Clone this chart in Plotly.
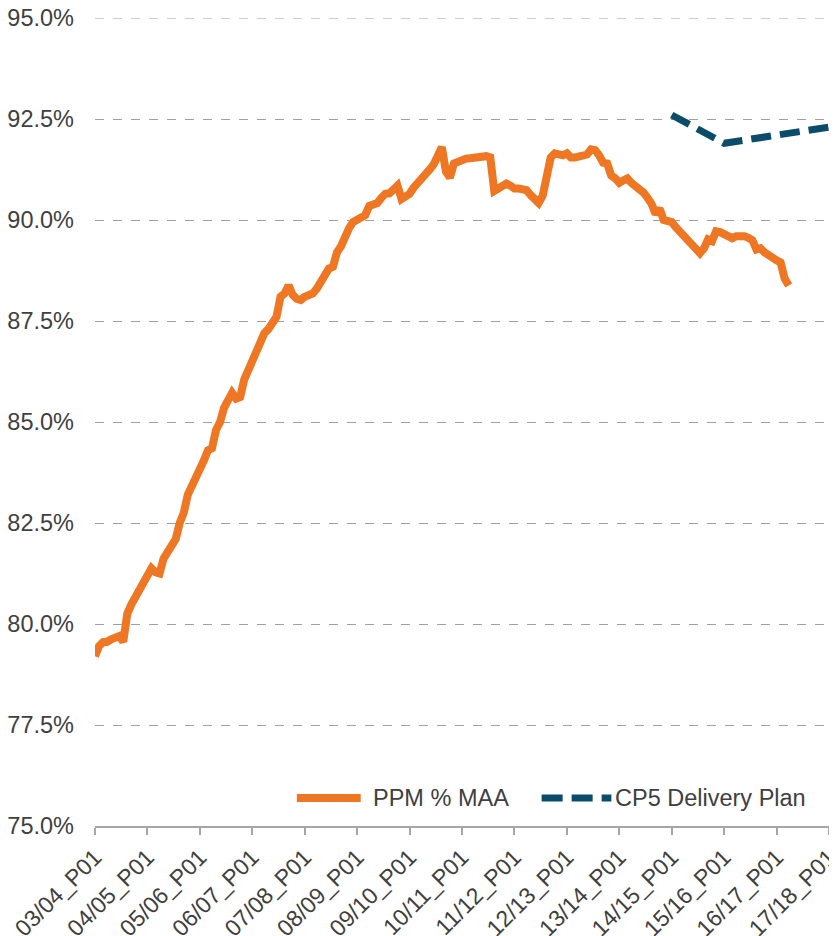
import plotly.graph_objects as go

# ---- data ----
years = ["03/04", "04/05", "05/06", "06/07", "07/08", "08/09", "09/10", "10/11",
         "11/12", "12/13", "13/14", "14/15", "15/16", "16/17", "17/18"]
periods = [f"{y}_P{p:02d}" for y in years[:-1] for p in range(1, 14)] + [f"{years[-1]}_P01"]
tick_labels = [f"{y}_P01" for y in years]

ppm_maa = [
    79.2, 79.45, 79.55, 79.56, 79.62, 79.68, 79.70, 79.56, 80.25, 80.48,
    80.65, 80.88, 81.0, 81.2, 81.38, 81.28, 81.25, 81.62, 81.8, 81.9,
    82.1, 82.5, 82.75, 83.2, 83.4, 83.6, 83.75, 84.05, 84.3, 84.35,
    84.8, 85.0, 85.35, 85.55, 85.72, 85.58, 85.62, 86.05, 86.3, 86.5,
    86.7, 87.05, 87.2, 87.3, 87.45, 87.6, 88.1, 88.18, 88.38, 88.15,
    88.05, 88.02, 88.1, 88.12, 88.18, 88.3, 88.5, 88.65, 88.8, 88.84,
    89.2, 89.35, 89.6, 89.8, 89.95, 90.02, 90.08, 90.12, 90.35, 90.38,
    90.42, 90.55, 90.65, 90.66, 90.75, 90.85, 90.52, 90.56, 90.65, 90.8,
    90.9, 91.0, 91.15, 91.25, 91.38, 91.55, 91.8, 91.2, 91.05, 91.4,
    91.45, 91.48, 91.52, 91.53, 91.55, 91.57, 91.56, 91.58, 91.55, 90.72,
    90.78, 90.85, 90.9, 90.85, 90.78, 90.78, 90.76, 90.74, 90.62, 90.5,
    90.42, 90.6, 91.1, 91.55, 91.65, 91.6, 91.6, 91.65, 91.55, 91.55,
    91.57, 91.58, 91.62, 91.75, 91.73, 91.6, 91.42, 91.4, 91.1, 91.03,
    90.92, 90.98, 91.03, 90.92, 90.85, 90.72, 90.68, 90.55, 90.4, 90.15,
    90.28, 90.0, 89.98, 89.95, 89.82, 89.72, 89.6, 89.48, 89.42, 89.3,
    89.18, 89.3, 89.52, 89.48, 89.72, 89.7, 89.66, 89.64, 89.55, 89.6,
    89.62, 89.6, 89.56, 89.5, 89.27, 89.3, 89.2, 89.12, 89.06, 89.0,
    88.95, 88.55, 88.38,
]

plan_periods = ["14/15_P01", "15/16_P01", "16/17_P01", "17/18_P01"]
plan_values = [92.6, 91.9, 92.1, 92.3]

series_names = ["PPM % MAA", "CP5 Delivery Plan"]
y_min, y_max, y_step = 75, 95, 2.5

ORANGE = "#EF7622"
BLUE = "#0B4C6A"
TEXT = "#404040"
GRID = "#A0A0A0"
FONT = "Liberation Sans, Arial, sans-serif"
FS = 23.5

fig = go.Figure()
# top gridline (plotly omits the one on the range edge)
fig.add_shape(type="line", xref="paper", yref="y", x0=0, x1=1, y0=y_max, y1=y_max,
              line=dict(color=GRID, width=1, dash="dash"), layer="below")

fig.add_trace(go.Scatter(
    x=periods[:len(ppm_maa)], y=ppm_maa, mode="lines", name=series_names[0],
    line=dict(color=ORANGE, width=8), showlegend=False,
))
fig.add_trace(go.Scatter(
    x=plan_periods, y=plan_values, mode="lines", name=series_names[1],
    line=dict(color=BLUE, width=7, dash="20px,9px"), showlegend=False,
))

# legend drawn inside the plot area, bottom right
leg_y = 0.0347
fig.add_shape(type="line", xref="paper", yref="paper", x0=0.275, x1=0.362,
              y0=leg_y, y1=leg_y, line=dict(color=ORANGE, width=8))
fig.add_annotation(x=0.376, y=leg_y, xref="paper", yref="paper", text=series_names[0],
                   showarrow=False, xanchor="left", yanchor="middle",
                   font=dict(size=FS, color=TEXT, family=FONT))
fig.add_shape(type="line", xref="paper", yref="paper", x0=0.6085, x1=0.7035,
              y0=leg_y, y1=leg_y, line=dict(color=BLUE, width=7, dash="21px,9px"))
fig.add_annotation(x=0.706, y=leg_y, xref="paper", yref="paper", text=series_names[1],
                   showarrow=False, xanchor="left", yanchor="middle",
                   font=dict(size=FS, color=TEXT, family=FONT))

fig.update_layout(
    template="none",
    width=829, height=928,
    margin=dict(l=87, r=8, t=10, b=110, autoexpand=False),
    paper_bgcolor="white", plot_bgcolor="white",
    font=dict(family=FONT, size=FS, color=TEXT),
    showlegend=False,
)
fig.update_xaxes(
    type="category", categoryorder="array", categoryarray=periods,
    range=[0, len(periods) - 1],
    tickmode="array", tickvals=tick_labels, ticktext=tick_labels,
    tickangle=-45, ticks="outside", ticklen=7, tickcolor="#A6A6A6", tickwidth=1.5,
    showline=True, linecolor="#A6A6A6", linewidth=1.5,
    showgrid=False, zeroline=False, automargin=False,
    ticklabeloverflow="allow",
    tickfont=dict(size=23, color=TEXT, family=FONT),
)
fig.update_yaxes(
    range=[y_min, y_max], dtick=y_step, tick0=y_min,
    tickformat=".1f", ticksuffix="%",
    showgrid=True, gridcolor=GRID, gridwidth=1, griddash="dash",
    showline=False, zeroline=False, ticks="", automargin=False,
    ticklabelstandoff=20, ticklabeloverflow="allow",
    tickfont=dict(size=FS, color=TEXT, family=FONT),
)

fig.write_html("out.html")
